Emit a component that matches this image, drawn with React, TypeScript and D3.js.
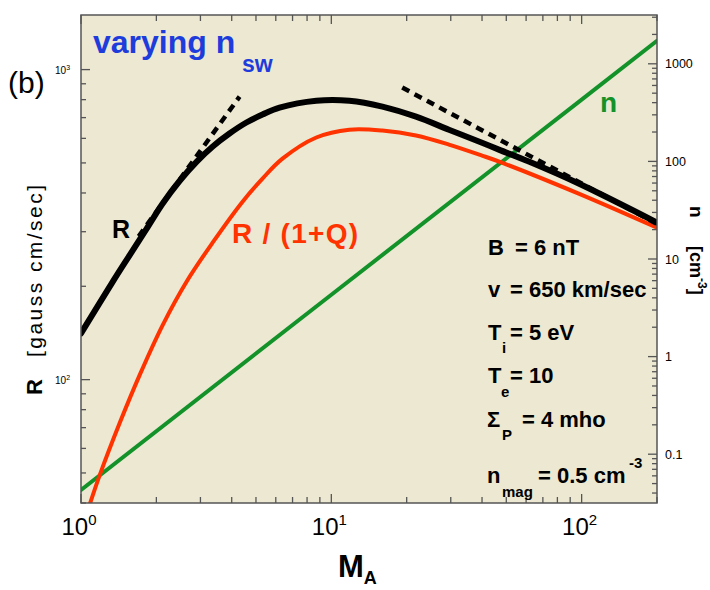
import React from "react";
import * as d3 from "d3";

// Black curve R vs M_A
const mA_R = [1, 1.34, 1.57, 1.83, 2.12, 2.48, 2.9, 3.36, 3.92, 4.58, 5.31, 6.21, 8.71, 11.8, 16, 21.8, 29.5, 40, 46.7, 61.5, 97.3, 200];
const rValues = [141, 207, 253, 307, 370, 438, 505, 565, 622, 675, 716, 754, 794, 794, 760, 705, 640, 581, 552, 505, 429, 321];

// Red curve R/(1+Q)
const mA_Q = [1.086, 1.19, 1.43, 1.72, 2.12, 2.64, 3.36, 4.42, 5.31, 6.38, 8.71, 11.8, 16, 21.8, 29.5, 40, 48, 97.3, 200];
const rqValues = [39.8, 49.4, 72.7, 104, 150, 207, 277, 375, 445, 516, 604, 640, 636, 613, 573, 528, 501, 398, 309];

// Green line n (right axis)
const mA_n = [1, 10, 100, 200];
const nValues = [0.043, 4.3, 430, 1720];

// Dashed asymptotes
const dashLowM = [1.7, 4.3];
const dashLowR = [290, 818];
const dashHighM = [19.2, 200];
const dashHighR = [875, 318];

// Tick labels
const xLabelVals = [1, 10, 100];
const xLabelExp = ["0", "1", "2"];
const yLabelVals = [100, 1000];
const yLabelExp = ["2", "3"];
const nLabelVals = [0.1, 1, 10, 100, 1000];
const nLabelText = ["0.1", "1", "10", "100", "1000"];

const FONT = "'Liberation Sans', Arial, Helvetica, sans-serif";

export default function App() {
  const L = 81, R = 657, T = 15, B = 503;
  const x = d3.scaleLog().domain([1, 200]).range([L, R]);
  const yR = d3.scaleLog().domain([40, 1500]).range([B, T]);
  const yN = d3.scaleLog().domain([Math.pow(10, -1.5), Math.pow(10, 3.5)]).range([B, T]);

  const mk = (xs: number[], ys: number[], ys2: any) =>
    d3
      .line<number>()
      .x((_, i) => x(xs[i]))
      .y((d) => ys2(d))
      .curve(d3.curveCatmullRom.alpha(0.5))(ys) as string;
  const straight = (xs: number[], ys: number[], ys2: any) =>
    d3
      .line<number>()
      .x((_, i) => x(xs[i]))
      .y((d) => ys2(d))(ys) as string;

  const isMajor = (v: number) => Math.abs(Math.log10(v) - Math.round(Math.log10(v))) < 1e-6;
  const xt = x.ticks().filter((v) => v >= 1 && v <= 200);
  const yt = yR.ticks().filter((v) => v >= 40 && v <= 1500);
  const nt = yN.ticks();

  const tickColor = "#555";

  return (
    <svg
      width={710}
      height={590}
      style={{ position: "absolute", left: 0, top: 0, display: "block", background: "#fff" }}
      fontFamily={FONT}
    >
      <defs>
        <clipPath id="plotclip">
          <rect x={L} y={T} width={R - L} height={B - T} />
        </clipPath>
      </defs>
      <rect x={L} y={T} width={R - L} height={B - T} fill="#ECE8D2" />

      {/* ticks */}
      <g stroke={tickColor} strokeWidth={1.3}>
        {xt.map((v, i) => {
          const len = isMajor(v) ? 9 : 6;
          return (
            <g key={"xt" + i}>
              <line x1={x(v)} x2={x(v)} y1={B} y2={B - len} />
              <line x1={x(v)} x2={x(v)} y1={T} y2={T + len} />
            </g>
          );
        })}
        {yt.map((v, i) => {
          const len = isMajor(v) ? 9 : 5;
          return <line key={"yt" + i} x1={L} x2={L + len} y1={yR(v)} y2={yR(v)} />;
        })}
        {nt.map((v, i) => {
          const len = isMajor(v) ? 9 : 5;
          return <line key={"nt" + i} x1={R} x2={R - len} y1={yN(v)} y2={yN(v)} />;
        })}
      </g>

      <g clipPath="url(#plotclip)" fill="none" strokeLinecap="round" strokeLinejoin="round">
        <path d={straight(mA_n, nValues, yN)} stroke="#13922A" strokeWidth={4} />
        <path d={mk(mA_Q, rqValues, yR)} stroke="#FF3300" strokeWidth={4} />
        <path d={mk(mA_R, rValues, yR)} stroke="#000" strokeWidth={6} />
        <path d={straight(dashLowM, dashLowR, yR)} stroke="#000" strokeWidth={4.5} strokeDasharray="8 6" strokeLinecap="butt" />
        <path d={straight(dashHighM, dashHighR, yR)} stroke="#000" strokeWidth={4.5} strokeDasharray="8 6" strokeLinecap="butt" />
      </g>

      <rect x={L} y={T} width={R - L} height={B - T} fill="none" stroke="#555" strokeWidth={1.5} />

      {/* bottom tick labels */}
      {xLabelVals.map((v, i) => (
        <text key={"xl" + i} x={x(v) - 2} y={535} fontSize={24} textAnchor="middle" fill="#000">
          10
          <tspan fontSize={15} dy={-10}>
            {xLabelExp[i]}
          </tspan>
        </text>
      ))}
      {/* left tick labels */}
      {yLabelVals.map((v, i) => (
        <text key={"yl" + i} x={55} y={yR(v) + 4} fontSize={10} fill="#000">
          10
          <tspan fontSize={7} dy={-4}>
            {yLabelExp[i]}
          </tspan>
        </text>
      ))}
      {/* right tick labels */}
      {nLabelVals.map((v, i) => (
        <text key={"nl" + i} x={665} y={yN(v) + 4.5} fontSize={12.5} fill="#000">
          {nLabelText[i]}
        </text>
      ))}

      {/* axis titles */}
      <text x={338} y={577} fontSize={31} fontWeight="bold" fill="#000">
        M
        <tspan fontSize={18} dy={7}>
          A
        </tspan>
      </text>
      <g transform="translate(42,395) rotate(-90)">
        <text x={0} y={0} fontSize={22} fontWeight="bold" fill="#000">
          R
        </text>
        <text x={38} y={0} fontSize={21} fill="#000" textLength={172} lengthAdjust="spacing">
          [gauss cm/sec]
        </text>
      </g>
      <g transform="translate(690,206) rotate(90)">
        <text x={0} y={0} fontSize={19} fontWeight="bold" fill="#000">
          n
        </text>
        <text x={40} y={0} fontSize={18} fontWeight="bold" fill="#000">
          [cm
          <tspan fontSize={12} dy={-8}>
            -3
          </tspan>
          <tspan dy={8}>]</tspan>
        </text>
      </g>

      {/* panel label + title */}
      <text x={8} y={93} fontSize={30} fill="#000">
        (b)
      </text>
      <text x={93} y={53} fontSize={32} fontWeight="bold" fill="#1E3CDC">
        varying n
      </text>
      <text x={242} y={72} fontSize={23} fontWeight="bold" fill="#1E3CDC">
        sw
      </text>

      {/* curve labels */}
      <text x={112} y={238} fontSize={25} fontWeight="bold" fill="#000">
        R
      </text>
      <text x={232} y={243} fontSize={28} fontWeight="bold" fill="#FF3300" textLength={126} lengthAdjust="spacing">
        R / (1+Q)
      </text>
      <text x={600} y={112} fontSize={28} fontWeight="bold" fill="#13922A">
        n
      </text>

      {/* parameters */}
      <g fontSize={22} fontWeight="bold" fill="#000">
        <text x={488} y={255}>B</text>
        <text x={515} y={255}>= 6 nT</text>
        <text x={488} y={297}>v</text>
        <text x={510} y={297}>= 650 km/sec</text>
        <text x={488} y={340}>T</text>
        <text x={502} y={353} fontSize={15}>i</text>
        <text x={510} y={340}>= 5 eV</text>
        <text x={488} y={383}>T</text>
        <text x={501} y={397} fontSize={15}>e</text>
        <text x={510} y={383}>= 10</text>
        <text x={487} y={427}>Σ</text>
        <text x={502} y={440} fontSize={15}>P</text>
        <text x={522} y={427}>= 4 mho</text>
        <text x={487} y={483}>n</text>
        <text x={502} y={497} fontSize={15}>mag</text>
        <text x={538} y={483}>= 0.5 cm</text>
        <text x={629} y={468} fontSize={15}>-3</text>
      </g>
    </svg>
  );
}
